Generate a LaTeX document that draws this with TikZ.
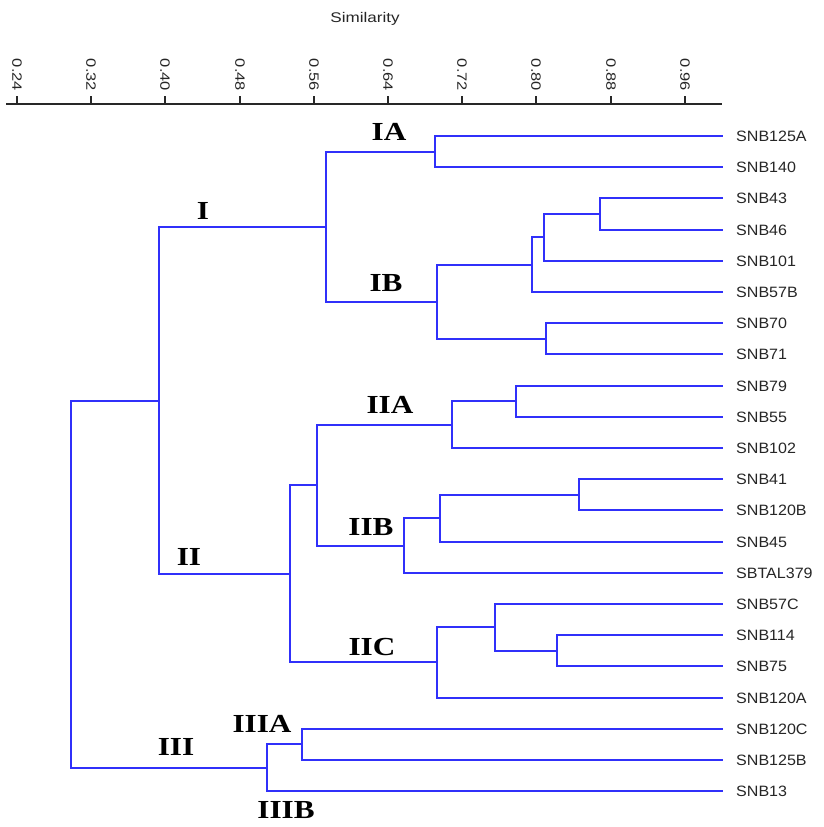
\documentclass[tikz,border=0pt]{standalone}
\usepackage{fontspec}
\setmainfont{Liberation Serif}
\newfontfamily\arialf{Liberation Sans}
\definecolor{linkblue}{RGB}{48,48,250}
\definecolor{axisgrey}{RGB}{40,40,40}
\begin{document}
\begin{tikzpicture}[x=1pt,y=-1pt,
  br/.style={draw=linkblue,line width=2pt,line cap=rect},
  leaf/.style={anchor=west,inner sep=0pt,font=\arialf\fontsize{15}{17}\selectfont,text=black!85},
  clabel/.style={inner sep=0pt,font=\bfseries\fontsize{26}{28}\selectfont},
  ticklabel/.style={inner sep=0pt,rotate=-90,font=\arialf\fontsize{13.5}{15}\selectfont,text=black!85},
  axisline/.style={draw=axisgrey,line width=1.4pt}]
\useasboundingbox (0,0) rectangle (823,827);
\fill[white] (0,0) rectangle (823,827);

% axis
\node[inner sep=0pt,font=\arialf\fontsize{14}{16}\selectfont,text=black!85] (simtitle) at (365,19) {\scalebox{1.22}[1]{Similarity}};
\coordinate (axL) at (6,104);
\coordinate (axR) at (722,104);
\draw[axisline] (axL) -- (axR);
\foreach \k/\lab in {0/0.24,1/0.32,2/0.40,3/0.48,4/0.56,5/0.64,6/0.72,7/0.80,8/0.88,9/0.96}{
  \coordinate (tk\k) at ({round(17+74.2*\k)},104);
  \draw[axisline,line width=1.2pt] (tk\k) -- ++(0,-8);
  \node[ticklabel] (tl\k) at ({round(17+74.2*\k)},75) {\scalebox{1.22}[1]{\lab}};
}

% leaves
\foreach \i/\name in {0/SNB125A,1/SNB140,2/SNB43,3/SNB46,4/SNB101,5/SNB57B,6/SNB70,7/SNB71,8/SNB79,9/SNB55,10/SNB102,11/SNB41,12/SNB120B,13/SNB45,14/SBTAL379,15/SNB57C,16/SNB114,17/SNB75,18/SNB120A,19/SNB120C,20/SNB125B,21/SNB13}{
  \coordinate (l\i) at (722,{round(136+31.2*\i)});
  \node[leaf,xshift=14pt] (n\i) at (l\i) {\scalebox{1.07}[1]{\name}};
}

% joins
\coordinate (jIA) at (435,152);
\coordinate (j4346) at (600,214);
\coordinate (j101) at (544,237);
\coordinate (j57B) at (532,265);
\coordinate (j7071) at (546,339);
\coordinate (jIB) at (437,302);
\coordinate (jI) at (326,227);
\coordinate (j7955) at (516,401);
\coordinate (jIIA) at (452,425);
\coordinate (j41) at (579,495);
\coordinate (j45) at (440,518);
\coordinate (jIIB) at (404,546);
\coordinate (jIIAB) at (317,485);
\coordinate (j11475) at (557,651);
\coordinate (j57C) at (495,627);
\coordinate (jIIC) at (437,662);
\coordinate (jII) at (290,574);
\coordinate (jIII0) at (159,401);
\coordinate (jIIIA) at (302,744);
\coordinate (jIII) at (267,768);
\coordinate (jroot) at (71,584);

\draw[br] (l0) -| (jIA) |- (l1);
\draw[br] (l2) -| (j4346) |- (l3);
\draw[br] (j4346) -| (j101) |- (l4);
\draw[br] (j101) -| (j57B) |- (l5);
\draw[br] (l6) -| (j7071) |- (l7);
\draw[br] (j57B) -| (jIB) |- (j7071);
\draw[br] (jIA) -| (jI) |- (jIB);
\draw[br] (l8) -| (j7955) |- (l9);
\draw[br] (j7955) -| (jIIA) |- (l10);
\draw[br] (l11) -| (j41) |- (l12);
\draw[br] (j41) -| (j45) |- (l13);
\draw[br] (j45) -| (jIIB) |- (l14);
\draw[br] (jIIA) -| (jIIAB) |- (jIIB);
\draw[br] (l16) -| (j11475) |- (l17);
\draw[br] (l15) -| (j57C) |- (j11475);
\draw[br] (j57C) -| (jIIC) |- (l18);
\draw[br] (jIIAB) -| (jII) |- (jIIC);
\draw[br] (jI) -| (jIII0) |- (jII);
\draw[br] (l19) -| (jIIIA) |- (l20);
\draw[br] (jIIIA) -| (jIII) |- (l21);
\draw[br] (jIII0) -| (jroot) |- (jIII);

% cluster labels
\node[clabel] (cIA) at (389,132) {\scalebox{1.2}[1]{IA}};
\node[clabel] (cI) at (203,211) {\scalebox{1.2}[1]{I}};
\node[clabel] (cIB) at (386,283) {\scalebox{1.2}[1]{IB}};
\node[clabel] (cIIA) at (390,405) {\scalebox{1.2}[1]{IIA}};
\node[clabel] (cIIB) at (371,527) {\scalebox{1.2}[1]{IIB}};
\node[clabel] (cII) at (189,557) {\scalebox{1.2}[1]{II}};
\node[clabel] (cIIC) at (372,647) {\scalebox{1.2}[1]{IIC}};
\node[clabel] (cIIIA) at (262,724) {\scalebox{1.2}[1]{IIIA}};
\node[clabel] (cIII) at (176,747) {\scalebox{1.2}[1]{III}};
\node[clabel] (cIIIB) at (286,810) {\scalebox{1.2}[1]{IIIB}};
\end{tikzpicture}
\end{document}
